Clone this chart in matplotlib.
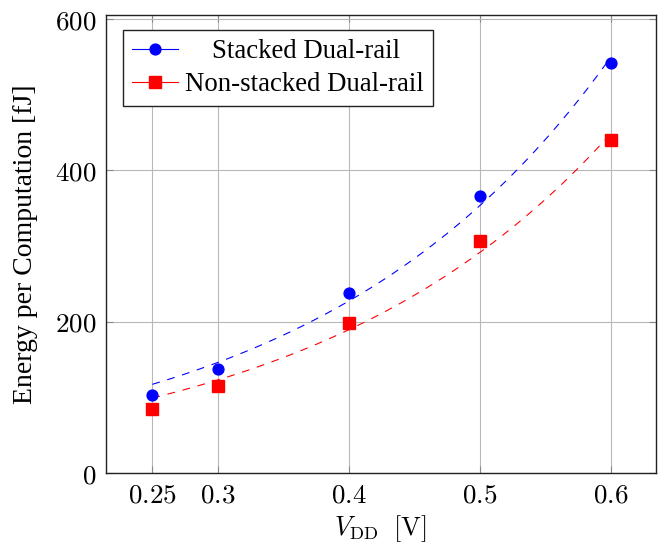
import numpy as np
import matplotlib
matplotlib.use("Agg")
import matplotlib.pyplot as plt
from matplotlib.lines import Line2D

# ---- data ----
vdd = [0.25, 0.3, 0.4, 0.5, 0.6]
stacked = [103, 138, 238, 366, 542]
nonstacked = [85, 115, 198, 307, 440]
xticks = [0.25, 0.3, 0.4, 0.5, 0.6]
xticklabels = ["0.25", "0.3", "0.4", "0.5", "0.6"]
yticks = [0, 200, 400, 600]
labels = ["Stacked Dual-rail", "Non-stacked Dual-rail"]


def exp_fit(x, y):
    """Least-squares fit y = a*exp(b*x) (trend line derived from the data)."""
    x = np.asarray(x, float)
    y = np.asarray(y, float)
    best = None
    for b in np.linspace(1.0, 10.0, 9001):
        f = np.exp(b * x)
        a = np.dot(y, f) / np.dot(f, f)
        sse = np.sum((a * f - y) ** 2)
        if best is None or sse < best[0]:
            best = (sse, a, b)
    return best[1], best[2]


plt.rcParams['mathtext.fontset'] = 'cm'
serif = ['Liberation Serif', 'DejaVu Serif']

fig = plt.figure(figsize=(6.63, 5.44), dpi=100)
ax = fig.add_axes([106 / 663, 1 - 473 / 544, (655.5 - 106) / 663, (473 - 15) / 544])

xs = np.linspace(min(vdd), max(vdd), 200)
for ys, col, mk, ms in [(stacked, (0, 0, 1), 'o', 7.8), (nonstacked, (1, 0, 0), 's', 8.0)]:
    a, b = exp_fit(vdd, ys)
    ax.plot(xs, a * np.exp(b * xs), color=col, lw=0.8, ls=(0, (7, 7)), zorder=2)
    ax.plot(vdd, ys, ls='none', marker=mk, ms=ms, color=col, mec=col, zorder=3)

ax.set_xlim(0.2146, 0.6342)
ax.set_ylim(0, 605.3)
ax.set_xticks(xticks)
ax.set_xticklabels(["$" + t + "$" for t in xticklabels], fontsize=19.5)
ax.set_yticks(yticks)
ax.set_yticklabels(["$%d$" % v for v in yticks], fontsize=19.5)
ax.grid(True, color='#b8b8b8', lw=0.8, zorder=0)
ax.set_axisbelow(True)
ax.tick_params(direction='in', length=5, width=0.8, color='#888888',
               top=True, right=True, pad=7)
for s in ax.spines.values():
    s.set_linewidth(1.0)
    s.set_color('#222222')

ax.set_xlabel(r"$V_{\mathrm{DD}}\;\ [\mathrm{V}]$", fontsize=19, labelpad=3)
ax.set_ylabel("Energy per Computation [fJ]", fontsize=20, family=serif, labelpad=12)

handles = [
    Line2D([], [], color=(0, 0, 1), lw=0.8, marker='o', ms=7.8),
    Line2D([], [], color=(1, 0, 0), lw=0.8, marker='s', ms=8.0),
]
leg = ax.legend(handles, ["    " + labels[0], labels[1]], loc='upper left',
                bbox_to_anchor=(0.031, 0.968), prop={'family': serif, 'size': 19.3},
                frameon=True, fancybox=False, edgecolor='#222222', framealpha=1,
                handlelength=1.7, handletextpad=0.25, borderpad=0.35, labelspacing=0.3,
                borderaxespad=0)
leg.get_frame().set_linewidth(1.0)

fig.savefig("out.png", dpi=100)
